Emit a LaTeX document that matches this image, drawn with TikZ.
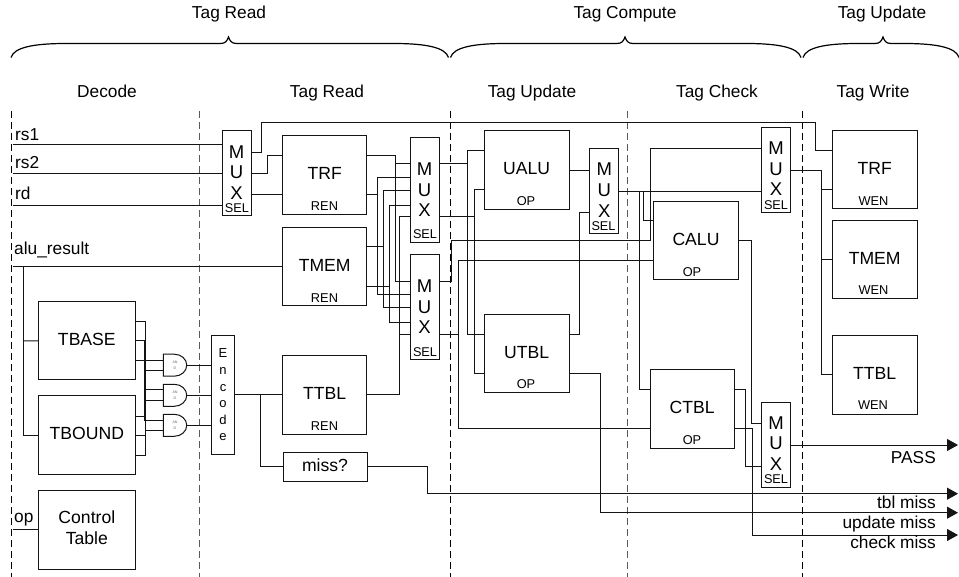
\documentclass[tikz,border=0pt]{standalone}
\usepackage{fontspec}
\setmainfont{Liberation Sans}
\usetikzlibrary{arrows.meta}
\newcommand{\fs}[2]{\fontsize{#1}{#2}\selectfont}
\tikzset{
  wire/.style={line width=1pt,line join=miter,draw=black!92},
  arrowwire/.style={wire,-{Triangle[length=11pt,width=12pt]}},
  blk/.style={draw=black!92,line width=1pt,fill=none,inner sep=0pt,outer sep=0pt,font=\fs{17.6}{21},text depth=3pt,align=center},
  muxbox/.style={draw=black!92,line width=1pt,inner sep=0pt,outer sep=0pt,minimum width=29pt},
  muxtext/.style={inner sep=0pt,align=center,font=\fs{18.5}{20.8}},
  seltext/.style={inner sep=0pt,font=\fs{12.7}{14}},
  subtext/.style={inner sep=0pt,font=\fs{12.8}{14}},
  labeltext/.style={inner sep=0pt,font=\fs{17.3}{20},text height=12pt,text depth=3.5pt},
  headtext/.style={labeltext},
  sigtext/.style={labeltext,anchor=west},
  outtext/.style={labeltext,anchor=east},
  bar/.style={line width=1pt,dash pattern=on 7pt off 4pt},
  andtext/.style={inner sep=0pt,outer sep=0pt,minimum width=23.5pt,minimum height=22pt,align=center,text=black!60,font=\fs{3.6}{5.2}},
  bracecurve/.style={line width=1.2pt},
}
\newcommand{\andgate}[2]{%
  \node[andtext] (#1) at (175,#2) {AN\\D};
  \draw[wire] (#1.north west) -- ([xshift=11pt]#1.north west)
    .. controls ([xshift=18pt]#1.north west) and ([xshift=23.5pt,yshift=-5pt]#1.north west) .. (#1.east)
    .. controls ([xshift=23.5pt,yshift=5pt]#1.south west) and ([xshift=18pt]#1.south west) .. ([xshift=11pt]#1.south west)
    -- (#1.south west) -- cycle;
}
\newcommand{\curlybrace}[3]{% left, tip, right
  \draw[bracecurve] (#1,57.5) .. controls (#1+3,47.5) and (#1+22,43.5) .. (#1+55,43.5)
    -- (#2-8,43.5) .. controls (#2-3,43.5) and (#2-1.5,41) .. (#2,37)
    .. controls (#2+1.5,41) and (#2+3,43.5) .. (#2+8,43.5)
    -- (#3-55,43.5) .. controls (#3-22,43.5) and (#3-3,47.5) .. (#3,57.5);
}
\begin{document}
\begin{tikzpicture}[x=1pt,y=-1pt]
\path[use as bounding box] (0,0) rectangle (959,577);

% stage separators
\draw[bar] (11.5,111) -- (11.5,577);
\draw[bar,draw=black!65] (199,111) -- (199,577);
\draw[bar] (450.3,111) -- (450.3,577);
\draw[bar,draw=black!65] (627.7,111) -- (627.7,577);
\draw[bar] (802.3,111) -- (802.3,577);

% braces and headings
\curlybrace{11}{228.5}{448.5}
\curlybrace{450.5}{625}{801}
\curlybrace{803}{883}{959}
\node[headtext] (h1) at (229,14.2) {Tag Read};
\node[headtext] (h2) at (625,14.2) {Tag Compute};
\node[headtext] (h3) at (882,14.2) {Tag Update};
\node[headtext] (s1) at (107,93.4) {Decode};
\node[headtext] (s2) at (327,93.4) {Tag Read};
\node[headtext] (s3) at (532,93.4) {Tag Update};
\node[headtext] (s4) at (717,93.4) {Tag Check};
\node[headtext] (s5) at (873,93.4) {Tag Write};

% signal labels and free ends
\node[sigtext] (lrs1) at (15,136.4) {rs1};
\node[sigtext] (lrs2) at (15,164) {rs2};
\node[sigtext] (lrd) at (15,195.7) {rd};
\node[sigtext] (lalu) at (14,250.7) {alu\_result};
\node[sigtext] (lop) at (14,518.7) {op};
\coordinate (inrs1) at (12.5,144.4);
\coordinate (inrs2) at (12.5,173.7);
\coordinate (inrd) at (12.5,206);
\coordinate (inalu) at (12.5,266.3);
\coordinate (inop) at (12.5,529.7);
\coordinate (outpass) at (958,445);
\coordinate (outtbl) at (958,493.7);
\coordinate (outupd) at (958,512.7);
\coordinate (outchk) at (958,535);

% blocks
\node[blk,minimum width=96.3pt,minimum height=78.3pt] (tbase) at (86.85,340.85) {TBASE};
\node[blk,minimum width=96.3pt,minimum height=78.7pt] (tbound) at (86.85,435.35) {TBOUND};
\node[blk,minimum width=96.3pt,minimum height=79pt] (ctrl) at (86.85,529.5) {Control\\Table};
\node[blk,minimum width=84pt,minimum height=78.7pt] (trf) at (324.7,175.35) {TRF};
\node[blk,minimum width=84pt,minimum height=78.7pt] (tmem) at (324.7,266.65) {TMEM};
\node[blk,minimum width=84pt,minimum height=78pt] (rttbl) at (324.7,395) {TTBL};
\node[blk,minimum width=84pt,minimum height=29.7pt] (miss) at (325,466.85) {miss?};
\node[blk,minimum width=84.7pt,minimum height=78.7pt] (ualu) at (526.65,170.35) {UALU};
\node[blk,minimum width=84.7pt,minimum height=78.3pt] (utbl) at (526.65,353.85) {UTBL};
\node[blk,minimum width=84.6pt,minimum height=78.3pt] (calu) at (696,240.85) {CALU};
\node[blk,minimum width=84.3pt,minimum height=78.6pt] (ctbl) at (692.15,409) {CTBL};
\node[blk,minimum width=84.7pt,minimum height=78pt] (wtrf) at (874.65,170) {TRF};
\node[blk,minimum width=84.7pt,minimum height=78.7pt] (wtmem) at (874.65,259.65) {TMEM};
\node[blk,minimum width=84.7pt,minimum height=78.7pt] (wttbl) at (874.65,375.35) {TTBL};

\node[subtext] (r1) at (324.5,206) {REN};
\node[subtext] (r2) at (324.5,298.3) {REN};
\node[subtext] (r3) at (324.5,426) {REN};
\node[subtext] (o1) at (526,201) {OP};
\node[subtext] (o2) at (526,384.5) {OP};
\node[subtext] (o3) at (692,272) {OP};
\node[subtext] (o4) at (692,440) {OP};
\node[subtext] (w1) at (873.5,201) {WEN};
\node[subtext] (w2) at (873.5,290.5) {WEN};
\node[subtext] (w3) at (873,405.5) {WEN};

% encoder
\node[draw=black!92,line width=1pt,inner sep=0pt,outer sep=0pt,minimum width=22.6pt,minimum height=118pt,align=center,font=\fs{13}{16.6}] (enc) at (223,395) {E\\n\\c\\o\\d\\e};

% multiplexers
\node[muxbox,minimum height=85pt] (mux1) at (236.5,173.5) {};
\node[muxtext] (m1t) at (236.5,172.5) {M\\U\\X};
\node[seltext] (m1s) at (237,208.3) {SEL};
\node[muxbox,minimum height=105.3pt] (mux2) at (424.5,190.35) {};
\node[muxtext] (m2t) at (424.5,189.7) {M\\U\\X};
\node[seltext] (m2s) at (425,234) {SEL};
\node[muxbox,minimum height=105pt] (mux3) at (424.5,307.5) {};
\node[muxtext] (m3t) at (424.5,306.7) {M\\U\\X};
\node[seltext] (m3s) at (425,352) {SEL};
\node[muxbox,minimum height=85pt] (mux4) at (604.2,191.5) {};
\node[muxtext] (m4t) at (604.2,190) {M\\U\\X};
\node[seltext] (m4s) at (603.5,226) {SEL};
\node[muxbox,minimum height=85.3pt] (mux5) at (776.2,170.35) {};
\node[muxtext] (m5t) at (776,168.8) {M\\U\\X};
\node[seltext] (m5s) at (776,205) {SEL};
\node[muxbox,minimum height=85.3pt] (mux6) at (776.2,445) {};
\node[muxtext] (m6t) at (776,443.5) {M\\U\\X};
\node[seltext] (m6s) at (776,479.5) {SEL};

% AND gates
\andgate{and1}{365.2}
\andgate{and2}{395.3}
\andgate{and3}{425.3}

% inputs
\draw[wire] (inrs1) -- (mux1.west |- inrs1);
\draw[wire] (inrs2) -- (mux1.west |- inrs2);
\draw[wire] (inrd) -- (mux1.west |- inrd);
\draw[wire] (inalu) -- (tmem.west |- inalu);
\draw[wire] (inop) -- (ctrl.west |- inop);
\draw[wire] (23,266.3) |- (tbound.west);
\draw[wire] (23,341) -- (tbase.west);

% bounds to AND gates
\draw[wire] (tbase.east |- 0,321.7) -| (145,390) -- (and2.west |- 0,390);
\draw[wire] (tbase.east |- 0,341) -| (144.6,420) -- (and3.west |- 0,420);
\draw[wire] (tbase.east |- 0,360.5) -- (and1.west |- 0,360.5);
\draw[wire] (tbound.east |- 0,416) -| (145,370.7) -- (and1.west |- 0,370.7);
\draw[wire] (tbound.east |- 0,435.3) -| (145.2,400.7) -- (and2.west |- 0,400.7);
\draw[wire] (tbound.east |- 0,455) -| (145.2,430.7) -- (and3.west |- 0,430.7);
\draw[wire] (and1.east) -- (enc.west |- and1.east);
\draw[wire] (and2.east) -- (enc.west |- and2.east);
\draw[wire] (and3.east) -- (enc.west |- and3.east);

% encoder to table
\draw[wire] (enc.east) -- (rttbl.west);
\draw[wire] (260,395) |- (miss.west);
\draw[arrowwire] (miss.east) -| (427,493.7) -- (outtbl);

% first mux
\draw[wire] (mux1.east |- 0,152.3) -| (261,122.7) -| (815.7,150.7) -- (wtrf.west |- 0,150.7);
\draw[wire] (mux1.east |- 0,173.7) -| (267.3,156) -- (trf.west |- 0,156);
\draw[wire] (mux1.east |- 0,195) -- (trf.west |- 0,195);

% tag tables to second muxes
\draw[wire] (trf.east |- 0,156) -| (395,281.3) -- (mux3.west |- 0,281.3);
\draw[wire] (395,164) -- (mux2.west |- 0,164);
\draw[wire] (trf.east |- 0,195) -- (377,195);
\draw[wire] (mux2.west |- 0,177.7) -| (377,294.3) -- (mux3.west |- 0,294.3);
\draw[wire] (tmem.east |- 0,246.7) -- (383.3,246.7);
\draw[wire] (mux2.west |- 0,190.3) -| (383.3,307.7) -- (mux3.west |- 0,307.7);
\draw[wire] (tmem.east |- 0,286.7) -- (389,286.7);
\draw[wire] (mux2.west |- 0,205.7) -| (389,322.3) -- (mux3.west |- 0,322.3);
\draw[wire] (rttbl.east) -| (399.3,217) -- (mux2.west |- 0,217);
\draw[wire] (399.3,334.3) -- (mux3.west |- 0,334.3);

% second muxes onward
\draw[wire] (mux2.east |- 0,164) -- (467,164);
\draw[wire] (ualu.west |- 0,150.7) -| (467,334.7) -- (utbl.west |- 0,334.7);
\draw[wire] (mux2.east |- 0,217) -- (474.5,217);
\draw[wire] (ualu.west |- 0,189.7) -| (474.5,373.7) -- (utbl.west |- 0,373.7);
\draw[wire] (mux3.east |- 0,281.3) -| (451,241) -| (650.3,149) -- (mux5.west |- 0,149);
\draw[wire] (mux3.east |- 0,334.3) -| (458.3,260.7) -- (calu.west |- 0,260.7);
\draw[wire] (458.3,334.3) |- (ctbl.west |- 0,428.7);

% update stage
\draw[wire] (ualu.east |- 0,170.3) -- (mux4.west |- 0,170.3);
\draw[wire] (utbl.east |- 0,334.7) -| (579,213) -- (mux4.west |- 0,213);
\draw[arrowwire] (utbl.east |- 0,373.7) -| (600.7,512.7) -- (outupd);
\draw[wire] (mux4.east |- 0,191.7) -- (mux5.west |- 0,191.7);
\draw[wire] (639.3,191.7) |- (ctbl.west |- 0,389.3);
\draw[wire] (643.7,191.7) |- (calu.west |- 0,221);

% check stage
\draw[wire] (calu.east) -| (751.7,423.7) -- (mux6.west |- 0,423.7);
\draw[wire] (ctbl.east |- 0,389.3) -| (745,466.3) -- (mux6.west |- 0,466.3);
\draw[arrowwire] (ctbl.east |- 0,428.7) -| (752.3,535) -- (outchk);
\draw[arrowwire] (mux6.east |- outpass) -- (outpass);

% write stage
\draw[wire] (mux5.east) -| (821.7,375) -- (wttbl.west |- 0,375);
\draw[wire] (821.7,190) -- (wtrf.west |- 0,190);
\draw[wire] (821.7,260) -- (wtmem.west |- 0,260);

% output labels
\node[outtext] (lpass) at (936,459.7) {PASS};
\node[outtext] (ltbl) at (936,504) {tbl miss};
\node[outtext] (lupd) at (936,524) {update miss};
\node[outtext] (lchk) at (936,544.7) {check miss};
\end{tikzpicture}
\end{document}
